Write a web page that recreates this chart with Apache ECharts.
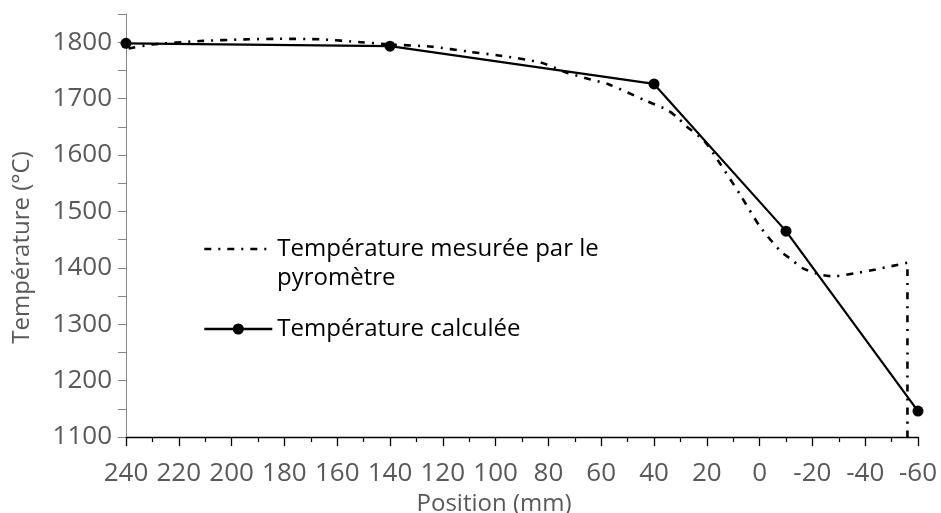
<!DOCTYPE html>
<html>
<head>
<meta charset="utf-8">
<script src="https://cdn.jsdelivr.net/npm/echarts@6/dist/echarts.min.js"></script>
<style>
  html, body { margin: 0; padding: 0; background: #fff; }
  #chart { width: 941px; height: 513px; }
</style>
</head>
<body>
<div id="chart"></div>
<script>
// Pyrometer readings along the part (position in mm, temperature in °C)
const measuredPos = [239, 230, 212, 195, 182, 166, 151, 140, 124, 110, 98, 83, 73, 64, 57, 43, 35, 31, 28, 21, 16, 7, 0, -8, -12, -16, -23, -28, -37, -44, -50, -56, -56];
const measuredTemp = [1789, 1796, 1802, 1805, 1806, 1805, 1800, 1796, 1792, 1783, 1776, 1764, 1746, 1734, 1725, 1696, 1680, 1666, 1652, 1625, 1592, 1527, 1474, 1429, 1415, 1400, 1388, 1385, 1391, 1397, 1403, 1409, 1100];

// Computed temperatures at the thermocouple stations
const calcPos = [240, 140, 40, -10, -60];
const calcTemp = [1798, 1793, 1726, 1465, 1146];

const seriesNames = ['Température mesurée par le pyromètre', 'Température calculée'];
const xTitle = 'Position (mm)';
const yTitle = 'Température (°C)';

const zip = (xs, ys) => xs.map((x, i) => [x, ys[i]]);

const FONT = '"Open Sans", "Noto Sans", sans-serif';
const GREY = '#595959';

const chart = echarts.init(document.getElementById('chart'), null, { renderer: 'canvas' });

chart.setOption({
  animation: false,
  backgroundColor: '#ffffff',
  textStyle: { fontFamily: FONT },
  grid: { left: 126, right: 23, top: 14, bottom: 76, containLabel: false, outerBoundsMode: 'none' },
  xAxis: {
    type: 'value',
    inverse: true,
    min: -60,
    max: 240,
    interval: 20,
    name: xTitle,
    nameLocation: 'middle',
    nameGap: 46,
    nameTextStyle: { fontSize: 24, color: GREY, fontFamily: FONT, padding: [0, 56, 0, 0] },
    axisLine: { show: true, onZero: false, lineStyle: { color: '#000', width: 1.3 } },
    axisTick: { show: true, inside: false, length: 9, lineStyle: { color: '#000', width: 1.3 } },
    minorTick: { show: true, splitNumber: 2, length: 5, lineStyle: { color: '#000', width: 1.2 } },
    axisLabel: { fontSize: 26, color: GREY, fontFamily: FONT, margin: 24 },
    splitLine: { show: false }
  },
  yAxis: {
    type: 'value',
    min: 1100,
    max: 1850,
    interval: 100,
    name: yTitle,
    nameLocation: 'middle',
    nameGap: 92,
    nameRotate: 90,
    nameTextStyle: { fontSize: 24, color: GREY, fontFamily: FONT, padding: [0, 44, 0, 0] },
    axisLine: { show: true, onZero: false, lineStyle: { color: '#868686', width: 1 } },
    axisTick: { show: true, inside: false, length: 8, lineStyle: { color: '#868686', width: 1 } },
    minorTick: { show: true, splitNumber: 2, length: 8, lineStyle: { color: '#868686', width: 1 } },
    axisLabel: {
      fontSize: 26, color: GREY, fontFamily: FONT, margin: 14,
      formatter: v => (v > 1800 ? '' : String(v))
    },
    splitLine: { show: false }
  },
  legend: [
    {
      data: [seriesNames[0]],
      left: 198,
      top: 232,
      itemWidth: 68,
      itemHeight: 14,
      itemStyle: { opacity: 0 },
      lineStyle: { width: 2.6 },
      formatter: () => 'Température mesurée par le',
      textStyle: { fontSize: 24, color: '#000', fontFamily: FONT },
      selectedMode: false
    },
    {
      data: [seriesNames[1]],
      left: 198,
      top: 312,
      itemWidth: 68,
      itemHeight: 14,
      lineStyle: { width: 2.6 },
      textStyle: { fontSize: 24, color: '#000', fontFamily: FONT },
      selectedMode: false
    }
  ],
  graphic: [
    {
      type: 'text',
      left: 277,
      top: 266,
      style: { text: 'pyromètre', fontSize: 24, fill: '#000', fontFamily: FONT }
    }
  ],
  series: [
    {
      name: seriesNames[0],
      type: 'line',
      data: zip(measuredPos, measuredTemp),
      showSymbol: false,
      symbol: 'none',
      smooth: 0.25,
      clip: false,
      lineStyle: { color: '#000', width: 2.6, type: [7, 7, 2, 7] },
      itemStyle: { color: '#000' },
      z: 2
    },
    {
      name: seriesNames[1],
      type: 'line',
      data: zip(calcPos, calcTemp),
      symbol: 'circle',
      symbolSize: 11,
      clip: false,
      lineStyle: { color: '#000', width: 2.2 },
      itemStyle: { color: '#000' },
      z: 3
    }
  ]
});
</script>
</body>
</html>
